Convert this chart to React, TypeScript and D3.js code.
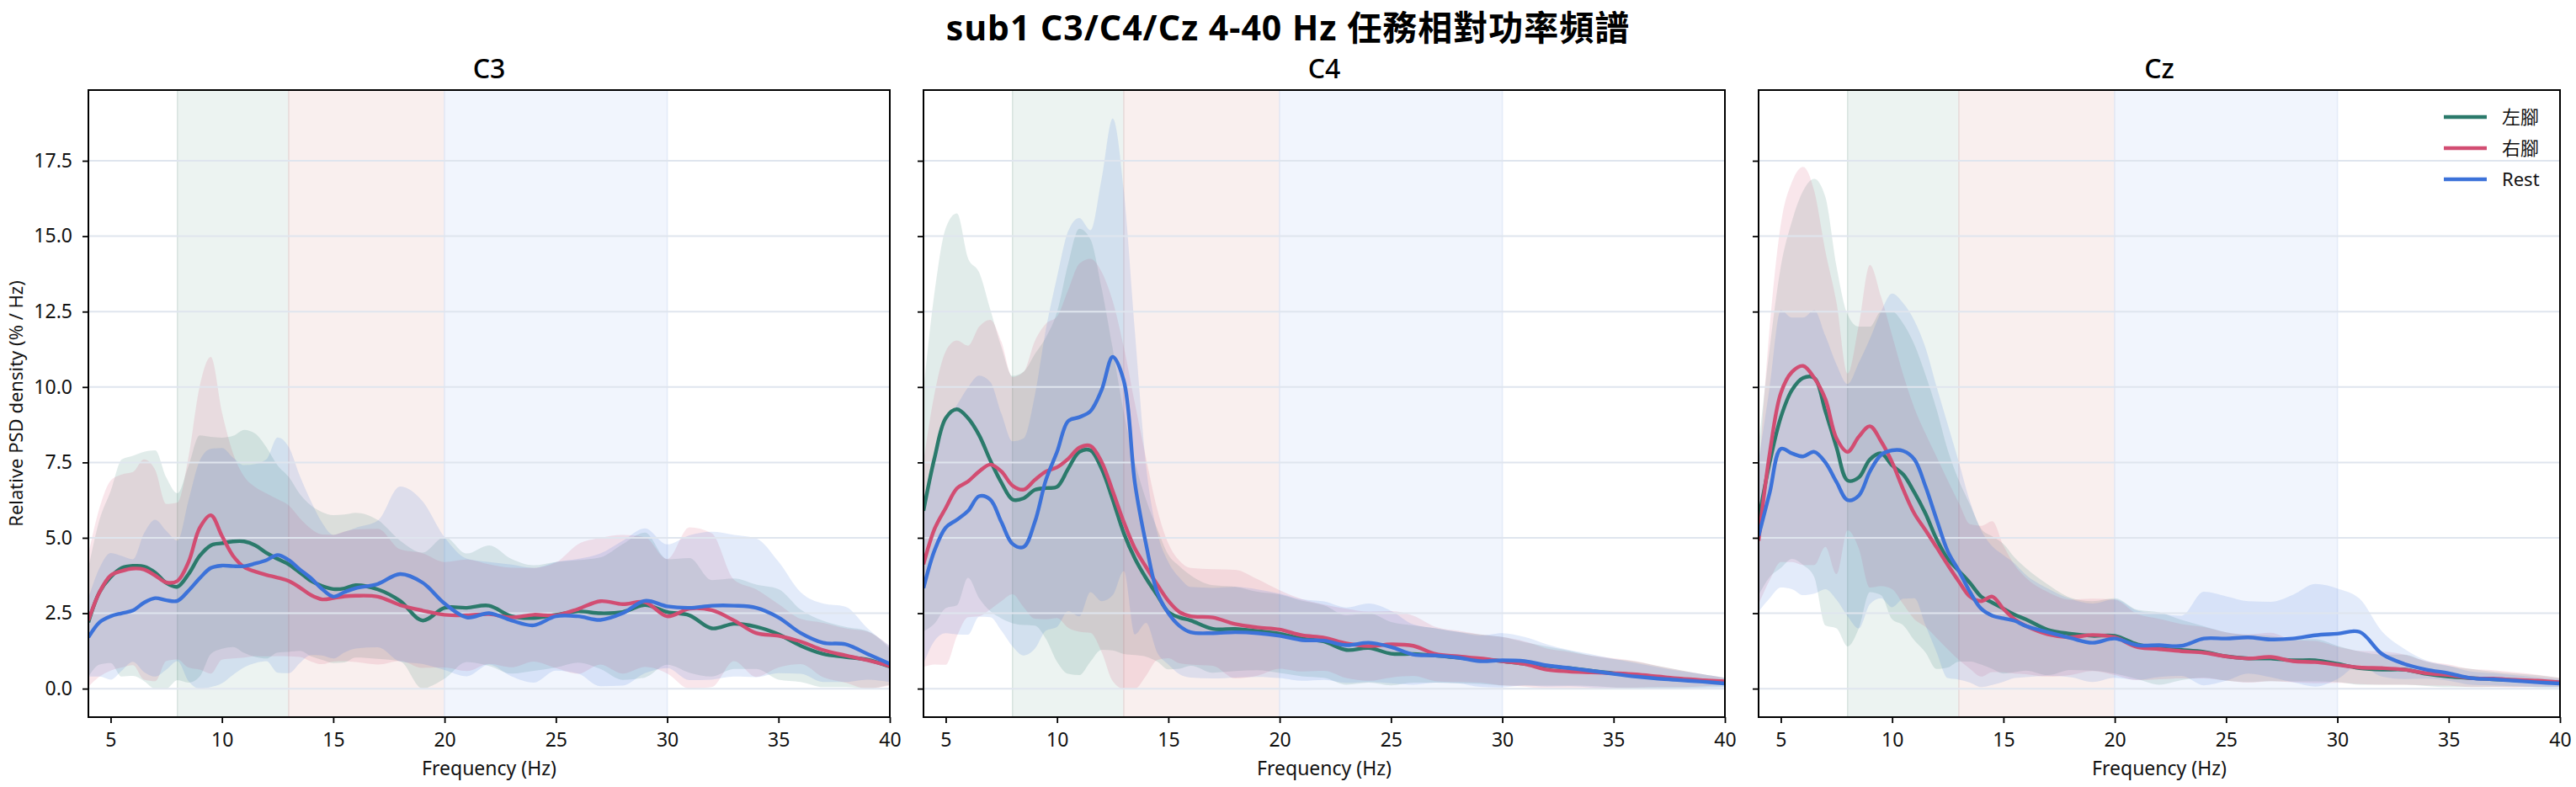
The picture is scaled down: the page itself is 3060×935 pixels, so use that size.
import React, { useEffect, useRef } from "react";
import * as d3 from "d3";

// frequency grid (Hz): half-Hz up to 16, then 1 Hz
const freqs = [
  4, 4.5, 5, 5.5, 6, 6.5, 7, 7.5, 8, 8.5, 9, 9.5, 10, 10.5, 11, 11.5, 12, 12.5, 13, 13.5, 14, 14.5, 15, 15.5, 16,
  17, 18, 19, 20, 21, 22, 23, 24, 25, 26, 27, 28, 29, 30, 31, 32, 33, 34, 35, 36, 37, 38, 39, 40,
];

// C3
const c3Left = [
  2.2, 3.2, 3.7, 4.0, 4.07, 4.05, 3.85, 3.5, 3.38, 3.8, 4.4, 4.75, 4.82, 4.88, 4.88, 4.75, 4.5, 4.3, 4.12, 3.85, 3.57, 3.4, 3.3, 3.32, 3.43,
  3.29, 2.91, 2.26, 2.68, 2.68, 2.75, 2.4, 2.34, 2.45, 2.56, 2.5, 2.54, 2.77, 2.54, 2.43, 2.0, 2.15, 2.05, 1.8, 1.42, 1.15, 1.05, 0.96, 0.73,
];
const c3LeftSd = [
  1.8, 2.4, 2.85, 3.6, 3.65, 3.8, 4.05, 3.5, 3.1, 3.6, 4.0, 3.6, 3.5, 3.5, 3.7, 3.7, 3.5, 3.1, 2.9, 2.6, 2.5, 2.45, 2.45, 2.45, 2.4,
  2.3, 2.0, 2.25, 2.35, 1.8, 2.0, 1.9, 1.75, 1.75, 1.7, 1.85, 2.25, 2.4, 1.75, 1.9, 1.6, 1.5, 1.4, 1.5, 1.2, 1.1, 1.0, 0.95, 0.6,
];
const c3Right = [
  2.26, 3.2, 3.75, 3.9, 3.98, 3.95, 3.75, 3.52, 3.57, 4.2, 5.33, 5.75, 5.06, 4.4, 4.03, 3.88, 3.77, 3.68, 3.57, 3.35, 3.1, 2.96, 3.0, 3.06, 3.08,
  3.05, 2.77, 2.59, 2.45, 2.43, 2.47, 2.36, 2.45, 2.43, 2.64, 2.9, 2.8, 2.87, 2.4, 2.65, 2.6, 2.26, 1.84, 1.75, 1.56, 1.28, 1.1, 0.94, 0.75,
];
const c3RightSd = [
  2.2, 2.8, 3.15, 3.2, 3.2, 3.65, 3.5, 2.6, 2.6, 3.5, 4.7, 5.25, 4.1, 3.4, 3.0, 2.8, 2.7, 2.6, 2.5, 2.3, 2.2, 2.15, 2.1, 2.15, 2.2,
  2.25, 1.85, 1.9, 1.75, 1.85, 1.65, 1.65, 1.55, 1.75, 2.15, 2.1, 2.3, 2.15, 1.9, 2.7, 2.55, 1.35, 1.45, 1.05, 0.75, 0.9, 0.9, 0.95, 0.65,
];
const c3Rest = [
  1.7, 2.2, 2.4, 2.5, 2.59, 2.85, 3.0, 2.93, 2.91, 3.25, 3.66, 4.0, 4.08, 4.06, 4.06, 4.15, 4.26, 4.43, 4.26, 3.95, 3.66, 3.3, 3.05, 3.2, 3.33,
  3.47, 3.8, 3.52, 2.82, 2.36, 2.5, 2.26, 2.1, 2.4, 2.4, 2.28, 2.5, 2.91, 2.73, 2.68, 2.75, 2.75, 2.68, 2.36, 1.84, 1.52, 1.47, 1.15, 0.82,
];
const c3RestSd = [
  1.3, 1.8, 2.1, 1.9, 1.7, 2.3, 2.6, 2.3, 2.0, 3.0, 3.9, 3.95, 3.9, 3.6, 3.35, 3.3, 3.35, 3.9, 3.75, 3.1, 2.55, 2.2, 2.05, 2.0, 2.0,
  2.1, 2.9, 2.7, 2.2, 1.95, 1.7, 1.85, 1.9, 1.8, 1.9, 2.2, 2.4, 2.4, 2.05, 2.4, 2.45, 2.35, 2.3, 1.85, 1.35, 1.3, 1.25, 0.85, 0.6,
];

// C4
const c4Left = [
  5.9, 7.66, 8.97, 9.26, 8.97, 8.4, 7.57, 6.83, 6.27, 6.31, 6.59, 6.65, 6.69, 7.29, 7.85, 7.9, 7.29, 6.27, 5.15, 4.31, 3.66, 3.1, 2.54, 2.36, 2.26,
  1.98, 1.98, 1.91, 1.82, 1.66, 1.56, 1.28, 1.35, 1.16, 1.15, 1.1, 1.03, 0.98, 0.91, 0.82, 0.75, 0.68, 0.59, 0.51, 0.45, 0.37, 0.31, 0.26, 0.21,
];
const c4LeftSd = [
  4.0, 5.5, 6.3, 6.5, 5.3, 5.4, 5.0, 4.5, 4.1, 4.2, 4.5, 5.0, 5.8, 6.8, 7.4, 7.0, 6.0, 5.0, 4.0, 3.2, 2.6, 2.2, 1.9, 1.7, 1.5,
  1.45, 1.4, 1.3, 1.3, 1.25, 1.2, 1.15, 1.15, 1.05, 0.95, 0.9, 0.85, 0.82, 0.8, 0.72, 0.65, 0.58, 0.5, 0.47, 0.45, 0.38, 0.3, 0.22, 0.15,
];
const c4Right = [
  4.12, 5.3, 5.99, 6.64, 6.87, 7.2, 7.43, 7.2, 6.73, 6.6, 6.92, 7.2, 7.34, 7.62, 7.99, 8.05, 7.52, 6.55, 5.52, 4.64, 4.03, 3.45, 2.91, 2.54, 2.4,
  2.36, 2.14, 2.03, 1.96, 1.77, 1.69, 1.5, 1.41, 1.47, 1.42, 1.15, 1.07, 1.0, 0.91, 0.82, 0.63, 0.57, 0.54, 0.51, 0.47, 0.4, 0.33, 0.28, 0.24,
];
const c4RightSd = [
  3.4, 4.5, 5.2, 4.9, 4.5, 4.8, 4.8, 4.3, 3.6, 3.9, 4.6, 4.9, 5.0, 5.6, 6.1, 6.2, 6.3, 6.3, 5.8, 4.8, 3.6, 2.5, 1.9, 1.7, 1.6,
  1.6, 1.8, 1.6, 1.3, 1.2, 1.1, 1.15, 1.15, 1.1, 1.0, 0.9, 0.85, 0.8, 0.8, 0.75, 0.7, 0.65, 0.55, 0.5, 0.44, 0.35, 0.28, 0.2, 0.12,
];
const c4Rest = [
  3.33, 4.59, 5.34, 5.6, 5.89, 6.38, 6.27, 5.52, 4.8, 4.7, 5.52, 6.92, 7.85, 8.87, 9.0, 9.2, 9.9, 11.0, 10.2, 6.8, 4.78, 3.19, 2.5, 2.08, 1.87,
  1.84, 1.87, 1.84, 1.75, 1.61, 1.59, 1.44, 1.52, 1.38, 1.13, 1.1, 1.03, 0.91, 0.94, 0.91, 0.77, 0.68, 0.59, 0.49, 0.4, 0.33, 0.28, 0.23, 0.17,
];
const c4RestSd = [
  2.5, 3.0, 3.5, 3.8, 4.1, 4.0, 3.9, 3.6, 3.4, 3.6, 4.2, 5.0, 5.8, 6.3, 6.6, 6.0, 7.0, 7.9, 6.3, 5.0, 2.6, 2.0, 1.7, 1.6, 1.5,
  1.5, 1.5, 1.45, 1.4, 1.35, 1.3, 1.25, 1.3, 1.2, 1.0, 0.9, 0.85, 0.85, 0.9, 0.8, 0.7, 0.6, 0.55, 0.5, 0.45, 0.38, 0.3, 0.25, 0.18,
];

// Cz
const czLeft = [
  5.6, 7.5, 9.0, 9.9, 10.3, 10.3, 9.2, 8.0, 6.9, 7.0, 7.6, 7.8, 7.4, 7.1, 6.5, 5.8, 4.95, 4.3, 3.9, 3.5, 3.05, 2.85, 2.65, 2.45, 2.3,
  1.95, 1.82, 1.75, 1.75, 1.47, 1.33, 1.28, 1.22, 1.07, 1.0, 1.0, 0.94, 0.94, 0.82, 0.68, 0.63, 0.63, 0.49, 0.4, 0.35, 0.31, 0.28, 0.24, 0.2,
];
const czLeftSd = [
  2.5, 3.8, 5.0, 5.6, 6.2, 6.6, 7.1, 6.0, 5.5, 5.0, 4.4, 4.7, 5.1, 5.0, 4.9, 4.6, 4.3, 3.6, 3.0, 2.6, 2.25, 2.2, 2.15, 1.9, 1.7,
  1.5, 1.2, 1.15, 1.25, 1.15, 1.2, 1.0, 0.85, 0.8, 0.78, 0.75, 0.7, 0.7, 0.6, 0.55, 0.5, 0.5, 0.4, 0.35, 0.3, 0.25, 0.22, 0.2, 0.15,
];
const czRight = [
  4.9, 7.8, 9.8, 10.5, 10.7, 10.3, 9.6, 8.3, 7.85, 8.35, 8.7, 8.2, 7.5, 6.6, 5.8, 5.25, 4.68, 4.1, 3.55, 3.05, 2.9, 3.05, 2.64, 2.3, 2.08,
  1.8, 1.7, 1.78, 1.7, 1.38, 1.31, 1.24, 1.19, 1.07, 1.0, 1.05, 0.91, 0.88, 0.79, 0.7, 0.68, 0.63, 0.51, 0.45, 0.35, 0.33, 0.29, 0.26, 0.21,
];
const czRightSd = [
  2.1, 4.2, 5.6, 6.3, 6.6, 6.2, 4.9, 4.5, 2.6, 3.7, 5.35, 4.8, 4.2, 3.8, 3.5, 3.2, 3.0, 2.8, 2.6, 2.4, 2.5, 2.5, 2.1, 1.8, 1.6,
  1.4, 1.25, 1.2, 1.25, 1.1, 1.0, 0.9, 0.85, 0.8, 0.8, 0.8, 0.7, 0.7, 0.6, 0.55, 0.55, 0.5, 0.4, 0.35, 0.3, 0.28, 0.25, 0.2, 0.15,
];
const czRest = [
  5.06, 6.5, 7.95, 7.8, 7.7, 7.85, 7.5, 6.85, 6.25, 6.4, 7.2, 7.75, 7.9, 7.88, 7.6, 6.7, 5.6, 4.55, 3.9, 3.2, 2.65, 2.42, 2.33, 2.25, 2.08,
  1.87, 1.68, 1.52, 1.66, 1.44, 1.44, 1.42, 1.66, 1.66, 1.7, 1.63, 1.66, 1.77, 1.82, 1.88, 1.15, 0.82, 0.63, 0.51, 0.35, 0.31, 0.26, 0.21, 0.17,
];
const czRestSd = [
  2.5, 3.5, 4.6, 4.5, 4.6, 4.7, 4.2, 3.9, 3.85, 4.4, 4.4, 4.75, 5.2, 4.9, 4.6, 4.6, 4.4, 4.2, 3.6, 3.0, 2.6, 2.3, 2.1, 1.9, 1.7,
  1.45, 1.3, 1.3, 1.3, 1.15, 1.05, 1.0, 1.55, 1.4, 1.2, 1.25, 1.45, 1.7, 1.5, 1.1, 0.75, 0.5, 0.3, 0.25, 0.22, 0.2, 0.18, 0.16, 0.14,
];

const channels = ["C3", "C4", "Cz"];
const conditions = ["左腳", "右腳", "Rest"];
const bandRanges = [[8, 13], [13, 20], [20, 30]];
const xTicks = [5, 10, 15, 20, 25, 30, 35, 40];
const yTicks = [0, 2.5, 5, 7.5, 10, 12.5, 15, 17.5];

// styles
const lineColors = ["#2b7a6b", "#d24d72", "#3c72d9"];
const bandFills = ["#ecf3f1", "#f9efee", "#f1f5fd"];
const bandEdges = ["#d8e4e0", "#eadcdb", "#e4ebf8"];
const FONT = "'Noto Sans', 'Noto Sans CJK TC', sans-serif";

export default function App() {
  const svgRef = useRef<SVGSVGElement>(null);

  useEffect(() => {
    const W = 3060;
    const H = 935;
    const svg = d3.select(svgRef.current);
    svg.selectAll("*").remove();
    svg.attr("width", W).attr("height", H).style("font-family", FONT);

    const panels = [
      { means: [c3Left, c3Right, c3Rest], sds: [c3LeftSd, c3RightSd, c3RestSd] },
      { means: [c4Left, c4Right, c4Rest], sds: [c4LeftSd, c4RightSd, c4RestSd] },
      { means: [czLeft, czRight, czRest], sds: [czLeftSd, czRightSd, czRestSd] },
    ];

    // layout
    const left = 105;
    const panelW = 952;
    const gap = 40;
    const top = 107;
    const bottom = 852;

    // shared y: data max with 5% margins
    const yMax = d3.max(panels, p => d3.max(p.means, (m, si) => d3.max(m, (v, i) => v + p.sds[si][i]))) as number;
    const pad = yMax * 0.05;
    const y = d3.scaleLinear().domain([-pad, yMax + pad]).range([bottom, top]);

    const defs = svg.append("defs");

    // suptitle
    svg.append("text")
      .attr("x", W / 2)
      .attr("y", 48)
      .attr("text-anchor", "middle")
      .style("font-size", "41px")
      .style("letter-spacing", "1px")
      .style("font-weight", "bold")
      .text("sub1 C3/C4/Cz 4-40 Hz 任務相對功率頻譜");

    panels.forEach((p, pi) => {
      const x0 = left + pi * (panelW + gap);
      const x = d3.scaleLinear().domain([4, 40]).range([x0, x0 + panelW]);

      const clipId = `clip-${pi}`;
      defs.append("clipPath").attr("id", clipId)
        .append("rect")
        .attr("x", x0).attr("y", top)
        .attr("width", panelW).attr("height", bottom - top);

      const plot = svg.append("g").attr("clip-path", `url(#${clipId})`);

      // frequency band shading
      bandRanges.forEach((b, bi) => {
        plot.append("rect")
          .attr("x", x(b[0]))
          .attr("y", top)
          .attr("width", x(b[1]) - x(b[0]))
          .attr("height", bottom - top)
          .attr("fill", bandFills[bi]);
        b.forEach(edge => {
          plot.append("line")
            .attr("x1", x(edge)).attr("x2", x(edge))
            .attr("y1", top).attr("y2", bottom)
            .attr("stroke", bandEdges[bi])
            .attr("stroke-width", 1.6);
        });
      });

      // mean ± sd bands
      const area = d3.area<number>()
        .x((d, i) => x(freqs[i]))
        .curve(d3.curveMonotoneX);

      p.means.forEach((m, si) => {
        const sd = p.sds[si];
        plot.append("path")
          .datum(m)
          .attr("d", area
            .y0((v, i) => y(Math.max(0, v - sd[i])))
            .y1((v, i) => y(v + sd[i])))
          .attr("fill", lineColors[si])
          .attr("fill-opacity", 0.14);
      });

      // grid on top of fills
      plot.selectAll(".grid")
        .data(yTicks)
        .enter()
        .append("line")
        .attr("x1", x0).attr("x2", x0 + panelW)
        .attr("y1", d => y(d)).attr("y2", d => y(d))
        .attr("stroke", "#dfe5ee")
        .attr("stroke-width", 2);

      // mean lines
      const line = d3.line<number>()
        .x((d, i) => x(freqs[i]))
        .y(d => y(d))
        .curve(d3.curveCatmullRom.alpha(0.5));

      p.means.forEach((m, si) => {
        plot.append("path")
          .datum(m)
          .attr("d", line)
          .attr("fill", "none")
          .attr("stroke", lineColors[si])
          .attr("stroke-width", 4.4)
          .attr("stroke-linejoin", "round");
      });

      // frame
      svg.append("rect")
        .attr("x", x0).attr("y", top)
        .attr("width", panelW).attr("height", bottom - top)
        .attr("fill", "none")
        .attr("stroke", "#000")
        .attr("stroke-width", 2);

      // x axis
      const xAxis = svg.append("g")
        .attr("transform", `translate(0,${bottom})`)
        .call(d3.axisBottom(x).tickValues(xTicks).tickSize(7).tickPadding(12).tickFormat(d3.format("d")));
      xAxis.select(".domain").remove();
      xAxis.selectAll(".tick line").attr("stroke", "#000").attr("stroke-width", 1.8);
      xAxis.selectAll("text")
        .style("font-family", FONT)
        .style("font-size", "23px")
        .attr("fill", "#111");

      // y axis (labels on first panel only)
      const yAxis = svg.append("g")
        .attr("transform", `translate(${x0},0)`)
        .call(d3.axisLeft(y).tickValues(yTicks).tickSize(7).tickPadding(12)
          .tickFormat(pi === 0 ? d3.format(".1f") : () => ""));
      yAxis.select(".domain").remove();
      yAxis.selectAll(".tick line").attr("stroke", "#000").attr("stroke-width", 1.8);
      yAxis.selectAll("text")
        .style("font-family", FONT)
        .style("font-size", "23px")
        .attr("fill", "#111");

      // panel title
      svg.append("text")
        .attr("x", x0 + panelW / 2)
        .attr("y", 93)
        .attr("text-anchor", "middle")
        .style("font-size", "32px")
        .style("font-weight", 500)
        .text(channels[pi]);

      // x label
      svg.append("text")
        .attr("x", x0 + panelW / 2)
        .attr("y", 921)
        .attr("text-anchor", "middle")
        .style("font-size", "23px")
        .attr("fill", "#111")
        .text("Frequency (Hz)");

      // legend in last panel
      if (pi === panels.length - 1) {
        const legend = svg.append("g");
        const items = legend.selectAll(".legend-item")
          .data(conditions)
          .enter()
          .append("g")
          .attr("transform", (d, i) => `translate(${x0 + panelW - 138}, ${139 + i * 37})`);
        items.append("line")
          .attr("x1", 0).attr("x2", 51)
          .attr("stroke", (d, i) => lineColors[i])
          .attr("stroke-width", 4.6);
        items.append("text")
          .attr("x", 69)
          .attr("dy", "0.35em")
          .style("font-size", "22px")
          .attr("fill", "#111")
          .text(d => d);
      }
    });

    // shared y label
    svg.append("text")
      .attr("transform", `translate(27,${(top + bottom) / 2}) rotate(-90)`)
      .attr("text-anchor", "middle")
      .style("font-size", "22px")
      .attr("fill", "#111")
      .text("Relative PSD density (% / Hz)");
  }, []);

  return (
    <div style={{ position: "absolute", left: 0, top: 0 }}>
      <svg ref={svgRef} style={{ display: "block" }}></svg>
    </div>
  );
}
